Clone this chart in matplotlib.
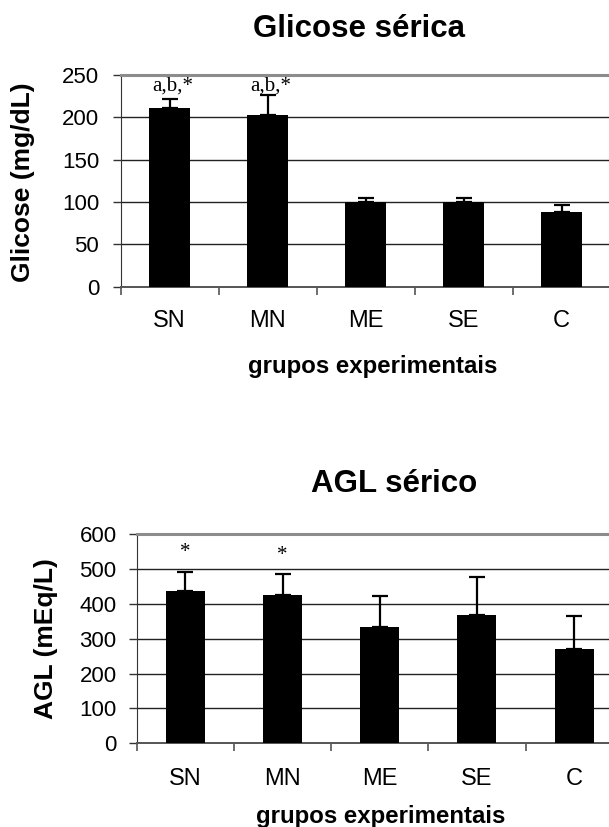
import matplotlib
matplotlib.use('Agg')
import matplotlib.pyplot as plt
from matplotlib.ticker import MultipleLocator, FixedLocator

plt.rcParams['font.family'] = ['Liberation Sans', 'DejaVu Sans']

grupos = ['SN', 'MN', 'ME', 'SE', 'C']

# glicose serica (mg/dL)
glicose = [210.7, 203, 100, 100, 88.4]
glicose_erro = [10.3, 23, 4.5, 4.5, 8.3]
glicose_sig = ['a,b,*', 'a,b,*', '', '', '']

# AGL serico (mEq/L)
agl = [437.5, 425, 332.6, 367.8, 269.5]
agl_erro = [54.5, 61, 90.4, 108, 96.5]
agl_sig = ['*', '*', '', '', '']

W, H = 609, 827
fig = plt.figure(figsize=(W / 100, H / 100), dpi=100)


def px(x, y):
    return x / W, 1 - y / H


def painel(ax, vals, erros, ymax, passo, largura, pad_x, pad_y, fs_tick, fs_cat):
    x = list(range(len(grupos)))
    ax.bar(x, vals, width=largura, color='black', zorder=3)
    ax.errorbar(x, vals, yerr=[[0] * len(vals), erros], fmt='none',
                ecolor='black', elinewidth=1.6, capsize=5.5, capthick=1.6, zorder=4)
    ax.set_xlim(-0.5, len(grupos) - 0.5)
    ax.set_ylim(0, ymax)
    ax.yaxis.set_major_locator(MultipleLocator(passo))
    for v in range(passo, ymax, passo):
        ax.axhline(v, color='#222222', lw=1.0, zorder=1)
    ax.set_xticks(x)
    ax.set_xticklabels(grupos, fontsize=fs_cat)
    ax.tick_params(axis='x', which='major', length=0, pad=pad_x)
    ax.xaxis.set_minor_locator(FixedLocator([i - 0.5 for i in range(len(grupos) + 1)]))
    ax.tick_params(axis='x', which='minor', length=6, width=1.2, color='#555555', direction='out')
    ax.tick_params(axis='y', length=6, width=1.0, color='#333333', direction='out',
                   pad=pad_y, labelsize=fs_tick)
    ax.spines['right'].set_visible(False)
    ax.spines['top'].set_color('#8c8c8c')
    ax.spines['top'].set_linewidth(2.2)
    ax.spines['left'].set_color('#333333')
    ax.spines['bottom'].set_color('#555555')
    ax.spines['bottom'].set_linewidth(1.4)


# painel de cima
l, b = px(120.7, 286.7)
ax1 = fig.add_axes([l, b, 490 / W, 212 / H])
painel(ax1, glicose, glicose_erro, 250, 50, 0.42, 16.5, 9.5, 16, 17)
for i, s in enumerate(glicose_sig):
    if s:
        ax1.text(i + 0.03, 231, s, ha='center', va='baseline', fontsize=15,
                 family=['Liberation Serif', 'DejaVu Serif'])
fig.text(*px(359, 29), 'Glicose sérica', ha='center', va='center', fontsize=22.5, fontweight='bold')
fig.text(*px(373, 366.7), 'grupos experimentais', ha='center', va='center', fontsize=17.3, fontweight='bold')
fig.text(*px(23, 181.7), 'Glicose (mg/dL)', ha='center', va='center', rotation=90,
         fontsize=19, fontweight='bold')

# painel de baixo
l, b = px(136.7, 743.3)
ax2 = fig.add_axes([l, b, 486 / W, 209.3 / H])
painel(ax2, agl, agl_erro, 600, 100, 0.40, 18, 8.5, 16, 17)
for i, s in enumerate(agl_sig):
    if s:
        ax2.text(i, 547 - 10 * i, s, ha='center', va='center', fontsize=15,
                 family=['Liberation Serif', 'DejaVu Serif'])
fig.text(*px(394, 483.5), 'AGL sérico', ha='center', va='center', fontsize=22.5, fontweight='bold')
fig.text(*px(381, 816.7), 'grupos experimentais', ha='center', va='center', fontsize=17.3, fontweight='bold')
fig.text(*px(46, 638.3), 'AGL (mEq/L)', ha='center', va='center', rotation=90,
         fontsize=19, fontweight='bold')

fig.savefig('out.png', dpi=100)
